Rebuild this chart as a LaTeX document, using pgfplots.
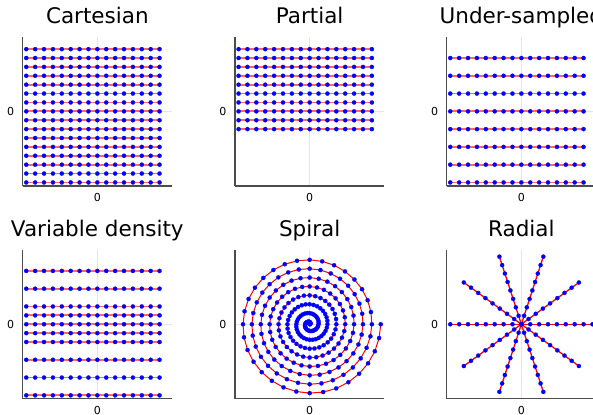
\documentclass[border=0pt]{standalone}
\usepackage{pgfplots}
\pgfplotsset{compat=1.18}
\usepackage{fontspec}
\setmainfont{DejaVu Sans}

\pgfplotsset{
  kspace/.style={
    width=149.3bp, height=149.3bp, scale only axis,
    xmin=-8.4, xmax=8.4, ymin=-8.4, ymax=8.4,
    axis lines*=left,
    axis line style={black!70, line width=1.1bp},
    xtick={0}, ytick={0},
    major tick length=0pt,
    xmajorgrids, ymajorgrids,
    grid style={black!10, line width=0.5bp},
    tick label style={font=\fontsize{11bp}{13bp}\selectfont},
    /pgf/number format/assume math mode=true,
    xticklabel style={yshift=-4bp},
    yticklabel style={xshift=-5bp},
    every axis title/.style={font=\fontsize{21.5bp}{25bp}\selectfont, at={(0.5,1)}, anchor=base, yshift=13.5bp},
  },
  traj/.style={red, line width=1.1bp, mark=*, mark size=2.1bp,
    mark options={solid, blue, opacity=1, line width=0.2bp}},
  row/.style={traj, red!60, line width=1.8bp},
}

\begin{document}
\begin{tikzpicture}

% Cartesian: 16 full rows
\begin{axis}[kspace, at={(22.7bp,378.3bp)}, anchor=north west, title={Cartesian}]
\pgfplotsinvokeforeach{-8,-7,-6,-5,-4,-3,-2,-1,0,1,2,3,4,5,6,7}{
  \addplot[row] coordinates {(-8,#1) (-7,#1) (-6,#1) (-5,#1) (-4,#1) (-3,#1) (-2,#1) (-1,#1) (0,#1) (1,#1) (2,#1) (3,#1) (4,#1) (5,#1) (6,#1) (7,#1)};
}
\end{axis}

% Partial: upper rows only
\begin{axis}[kspace, at={(235bp,378.3bp)}, anchor=north west, title={Partial}]
\pgfplotsinvokeforeach{-2,-1,0,1,2,3,4,5,6,7}{
  \addplot[row] coordinates {(-8,#1) (-7,#1) (-6,#1) (-5,#1) (-4,#1) (-3,#1) (-2,#1) (-1,#1) (0,#1) (1,#1) (2,#1) (3,#1) (4,#1) (5,#1) (6,#1) (7,#1)};
}
\end{axis}

% Under-sampled: every second row
\begin{axis}[kspace, at={(446.7bp,378.3bp)}, anchor=north west, title={Under-sampled}]
\pgfplotsinvokeforeach{-8,-6,-4,-2,0,2,4,6}{
  \addplot[row] coordinates {(-8,#1) (-7,#1) (-6,#1) (-5,#1) (-4,#1) (-3,#1) (-2,#1) (-1,#1) (0,#1) (1,#1) (2,#1) (3,#1) (4,#1) (5,#1) (6,#1) (7,#1)};
}
\end{axis}

% Variable density: dense near centre
\begin{axis}[kspace, at={(22.7bp,165.4bp)}, anchor=north west, title={Variable density}]
\pgfplotsinvokeforeach{-8,-6,-4,-2,-1,0,1,2,4,6}{
  \addplot[row] coordinates {(-8,#1) (-7,#1) (-6,#1) (-5,#1) (-4,#1) (-3,#1) (-2,#1) (-1,#1) (0,#1) (1,#1) (2,#1) (3,#1) (4,#1) (5,#1) (6,#1) (7,#1)};
}
\end{axis}

% Spiral: (angle, radius), 8 turns
\begin{axis}[kspace, at={(235bp,165.4bp)}, anchor=north west, title={Spiral}]
\addplot[traj, line width=1bp, data cs=polar] coordinates {
(0,0) (11.25,0.03125) (22.5,0.0625) (33.75,0.09375) (45,0.125) (56.25,0.15625) (67.5,0.1875) (78.75,0.21875) (90,0.25) (101.25,0.28125) (112.5,0.3125) (123.75,0.34375) (135,0.375) (146.25,0.40625) (157.5,0.4375) (168.75,0.46875) (180,0.5) (191.25,0.53125) (202.5,0.5625) (213.75,0.59375) (225,0.625) (236.25,0.65625) (247.5,0.6875) (258.75,0.71875) (270,0.75) (281.25,0.78125) (292.5,0.8125) (303.75,0.84375) (315,0.875) (326.25,0.90625) (337.5,0.9375) (348.75,0.96875)
(0,1) (11.25,1.03125) (22.5,1.0625) (33.75,1.09375) (45,1.125) (56.25,1.15625) (67.5,1.1875) (78.75,1.21875) (90,1.25) (101.25,1.28125) (112.5,1.3125) (123.75,1.34375) (135,1.375) (146.25,1.40625) (157.5,1.4375) (168.75,1.46875) (180,1.5) (191.25,1.53125) (202.5,1.5625) (213.75,1.59375) (225,1.625) (236.25,1.65625) (247.5,1.6875) (258.75,1.71875) (270,1.75) (281.25,1.78125) (292.5,1.8125) (303.75,1.84375) (315,1.875) (326.25,1.90625) (337.5,1.9375) (348.75,1.96875)
(0,2) (11.25,2.03125) (22.5,2.0625) (33.75,2.09375) (45,2.125) (56.25,2.15625) (67.5,2.1875) (78.75,2.21875) (90,2.25) (101.25,2.28125) (112.5,2.3125) (123.75,2.34375) (135,2.375) (146.25,2.40625) (157.5,2.4375) (168.75,2.46875) (180,2.5) (191.25,2.53125) (202.5,2.5625) (213.75,2.59375) (225,2.625) (236.25,2.65625) (247.5,2.6875) (258.75,2.71875) (270,2.75) (281.25,2.78125) (292.5,2.8125) (303.75,2.84375) (315,2.875) (326.25,2.90625) (337.5,2.9375) (348.75,2.96875)
(0,3) (11.25,3.03125) (22.5,3.0625) (33.75,3.09375) (45,3.125) (56.25,3.15625) (67.5,3.1875) (78.75,3.21875) (90,3.25) (101.25,3.28125) (112.5,3.3125) (123.75,3.34375) (135,3.375) (146.25,3.40625) (157.5,3.4375) (168.75,3.46875) (180,3.5) (191.25,3.53125) (202.5,3.5625) (213.75,3.59375) (225,3.625) (236.25,3.65625) (247.5,3.6875) (258.75,3.71875) (270,3.75) (281.25,3.78125) (292.5,3.8125) (303.75,3.84375) (315,3.875) (326.25,3.90625) (337.5,3.9375) (348.75,3.96875)
(0,4) (11.25,4.03125) (22.5,4.0625) (33.75,4.09375) (45,4.125) (56.25,4.15625) (67.5,4.1875) (78.75,4.21875) (90,4.25) (101.25,4.28125) (112.5,4.3125) (123.75,4.34375) (135,4.375) (146.25,4.40625) (157.5,4.4375) (168.75,4.46875) (180,4.5) (191.25,4.53125) (202.5,4.5625) (213.75,4.59375) (225,4.625) (236.25,4.65625) (247.5,4.6875) (258.75,4.71875) (270,4.75) (281.25,4.78125) (292.5,4.8125) (303.75,4.84375) (315,4.875) (326.25,4.90625) (337.5,4.9375) (348.75,4.96875)
(0,5) (11.25,5.03125) (22.5,5.0625) (33.75,5.09375) (45,5.125) (56.25,5.15625) (67.5,5.1875) (78.75,5.21875) (90,5.25) (101.25,5.28125) (112.5,5.3125) (123.75,5.34375) (135,5.375) (146.25,5.40625) (157.5,5.4375) (168.75,5.46875) (180,5.5) (191.25,5.53125) (202.5,5.5625) (213.75,5.59375) (225,5.625) (236.25,5.65625) (247.5,5.6875) (258.75,5.71875) (270,5.75) (281.25,5.78125) (292.5,5.8125) (303.75,5.84375) (315,5.875) (326.25,5.90625) (337.5,5.9375) (348.75,5.96875)
(0,6) (11.25,6.03125) (22.5,6.0625) (33.75,6.09375) (45,6.125) (56.25,6.15625) (67.5,6.1875) (78.75,6.21875) (90,6.25) (101.25,6.28125) (112.5,6.3125) (123.75,6.34375) (135,6.375) (146.25,6.40625) (157.5,6.4375) (168.75,6.46875) (180,6.5) (191.25,6.53125) (202.5,6.5625) (213.75,6.59375) (225,6.625) (236.25,6.65625) (247.5,6.6875) (258.75,6.71875) (270,6.75) (281.25,6.78125) (292.5,6.8125) (303.75,6.84375) (315,6.875) (326.25,6.90625) (337.5,6.9375) (348.75,6.96875)
(0,7) (11.25,7.03125) (22.5,7.0625) (33.75,7.09375) (45,7.125) (56.25,7.15625) (67.5,7.1875) (78.75,7.21875) (90,7.25) (101.25,7.28125) (112.5,7.3125) (123.75,7.34375) (135,7.375) (146.25,7.40625) (157.5,7.4375) (168.75,7.46875) (180,7.5) (191.25,7.53125) (202.5,7.5625) (213.75,7.59375) (225,7.625) (236.25,7.65625) (247.5,7.6875) (258.75,7.71875) (270,7.75) (281.25,7.78125) (292.5,7.8125) (303.75,7.84375) (315,7.875) (326.25,7.90625) (337.5,7.9375) (348.75,7.96875)
(0,8)
};
\end{axis}

% Radial: 5 spokes through the centre
\begin{axis}[kspace, at={(446.7bp,165.4bp)}, anchor=north west, title={Radial}]
\pgfplotsinvokeforeach{0,36,72,108,144}{
  \addplot[traj, line width=1.3bp, data cs=polar] coordinates {(#1,-8) (#1,-7) (#1,-6) (#1,-5) (#1,-4) (#1,-3) (#1,-2) (#1,-1) (#1,0) (#1,1) (#1,2) (#1,3) (#1,4) (#1,5) (#1,6) (#1,7) (#1,8)};
}
\end{axis}

\pgfresetboundingbox
\useasboundingbox (0,0) rectangle (593bp,415bp);
\end{tikzpicture}
\end{document}
